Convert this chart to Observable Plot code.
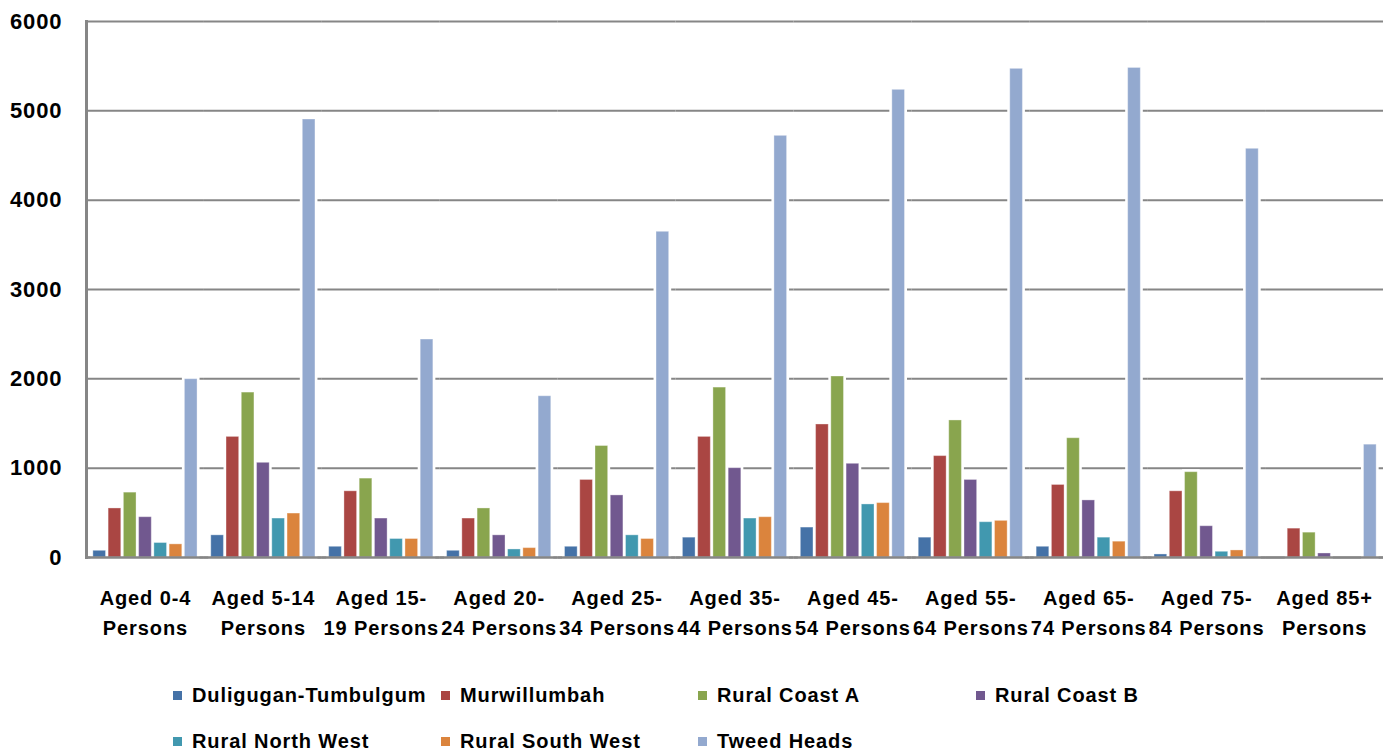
<!DOCTYPE html>
<html>
<head>
<meta charset="utf-8">
<script src="https://cdn.jsdelivr.net/npm/d3@7"></script>
<script src="https://cdn.jsdelivr.net/npm/@observablehq/plot@0.6"></script>
<style>
  html, body { margin: 0; padding: 0; background: white; }
  body { width: 1391px; height: 754px; overflow: hidden; font-family: "Liberation Sans", Arial, sans-serif; }
  #chart svg { display: block; }
  .legend {
    display: grid;
    grid-template-columns: 268px 257px 278px 220px;
    padding-left: 173px;
    margin-top: 23px;
    row-gap: 22px;
  }
  .legend .item { display: flex; align-items: center; height: 24px; font-size: 20px; font-weight: bold; letter-spacing: 0.9px; color: #000; white-space: nowrap; }
  .legend .sw { width: 9px; height: 9px; margin-right: 10px; flex: none; }
</style>
</head>
<body>
<div id="chart"></div>
<div class="legend" id="legend"></div>
<script>
const categories = ["Aged 0-4 Persons","Aged 5-14 Persons","Aged 15-19 Persons","Aged 20-24 Persons","Aged 25-34 Persons","Aged 35-44 Persons","Aged 45-54 Persons","Aged 55-64 Persons","Aged 65-74 Persons","Aged 75-84 Persons","Aged 85+ Persons"];
const labelLine1 = ["Aged 0-4","Aged 5-14","Aged 15-","Aged 20-","Aged 25-","Aged 35-","Aged 45-","Aged 55-","Aged 65-","Aged 75-","Aged 85+"];
const labelLine2 = ["Persons","Persons","19 Persons","24 Persons","34 Persons","44 Persons","54 Persons","64 Persons","74 Persons","84 Persons","Persons"];

const seriesNames = ["Duligugan-Tumbulgum","Murwillumbah","Rural Coast A","Rural Coast B","Rural North West","Rural South West","Tweed Heads"];
const seriesColors = ["#4572a7","#aa4643","#89a54e","#71588f","#4198af","#db843d","#93a9cf"];

const duligugan   = [75, 248, 120, 75, 120, 222, 335, 222, 120, 34, 0];
const murwillumbah = [549, 1350, 741, 436, 868, 1350, 1489, 1135, 812, 741, 323];
const ruralCoastA = [726, 1846, 883, 549, 1248, 1902, 2026, 1534, 1335, 955, 278];
const ruralCoastB = [451, 1060, 436, 248, 695, 1000, 1049, 868, 639, 350, 45];
const ruralNorthWest = [162, 436, 207, 90, 248, 436, 594, 395, 222, 64, 0];
const ruralSouthWest = [147, 492, 207, 105, 207, 451, 609, 410, 177, 79, 0];
const tweedHeads = [1996, 4903, 2440, 1805, 3646, 4720, 5235, 5470, 5480, 4575, 1263];

const yTicks = [0, 1000, 2000, 3000, 4000, 5000, 6000];

const seriesValues = [duligugan, murwillumbah, ruralCoastA, ruralCoastB, ruralNorthWest, ruralSouthWest, tweedHeads];
const data = categories.flatMap((c, i) => seriesNames.map((s, j) => ({cat: c, series: s, value: seriesValues[j][i]})));
const shown = data.filter(d => d.value > 0);

const chart = Plot.plot({
  width: 1391,
  height: 660,
  marginLeft: 86,
  marginRight: 8,
  marginTop: 21,
  marginBottom: 103,
  style: {fontFamily: "Liberation Sans, Arial, sans-serif", letterSpacing: "0.9px", background: "white", color: "black"},
  fx: {domain: categories, padding: 0, round: false, label: null},
  x: {domain: seriesNames, paddingInner: 0.17, paddingOuter: 0.45, round: false, axis: null},
  y: {domain: [0, 6000], label: null},
  color: {domain: seriesNames, range: seriesColors},
  marks: [
    Plot.gridY(yTicks, {stroke: "#868686", strokeOpacity: 1, strokeWidth: 2}),
    Plot.barY(shown, {fx: "cat", x: "series", y: "value", fill: "white", stroke: "white", strokeWidth: 5}),
    Plot.barY(shown, {fx: "cat", x: "series", y: "value", fill: "series", stroke: "white", strokeOpacity: 0.35, strokeWidth: 1}),
    Plot.ruleY([0], {stroke: "#868686", strokeWidth: 2.5}),
    Plot.frame({anchor: "left", facetAnchor: "left", stroke: "#868686", strokeWidth: 3}),
    Plot.axisY(yTicks, {tickSize: 0, tickPadding: 24, tickFormat: "d", fontSize: 22, fontWeight: "bold", fill: "black", label: null}),
    Plot.axisFx({anchor: "bottom", tickSize: 0, tickPadding: 33, label: null, fontSize: 20, fontWeight: "bold", fill: "black",
      tickFormat: d => labelLine1[categories.indexOf(d)]}),
    Plot.axisFx({anchor: "bottom", tickSize: 0, tickPadding: 63, label: null, fontSize: 20, fontWeight: "bold", fill: "black",
      tickFormat: d => labelLine2[categories.indexOf(d)]})
  ]
});
document.getElementById("chart").appendChild(chart);

const legend = document.getElementById("legend");
seriesNames.forEach((name, i) => {
  const item = document.createElement("div");
  item.className = "item";
  const sw = document.createElement("span");
  sw.className = "sw";
  sw.style.background = seriesColors[i];
  item.appendChild(sw);
  item.appendChild(document.createTextNode(name));
  legend.appendChild(item);
});
</script>
</body>
</html>
